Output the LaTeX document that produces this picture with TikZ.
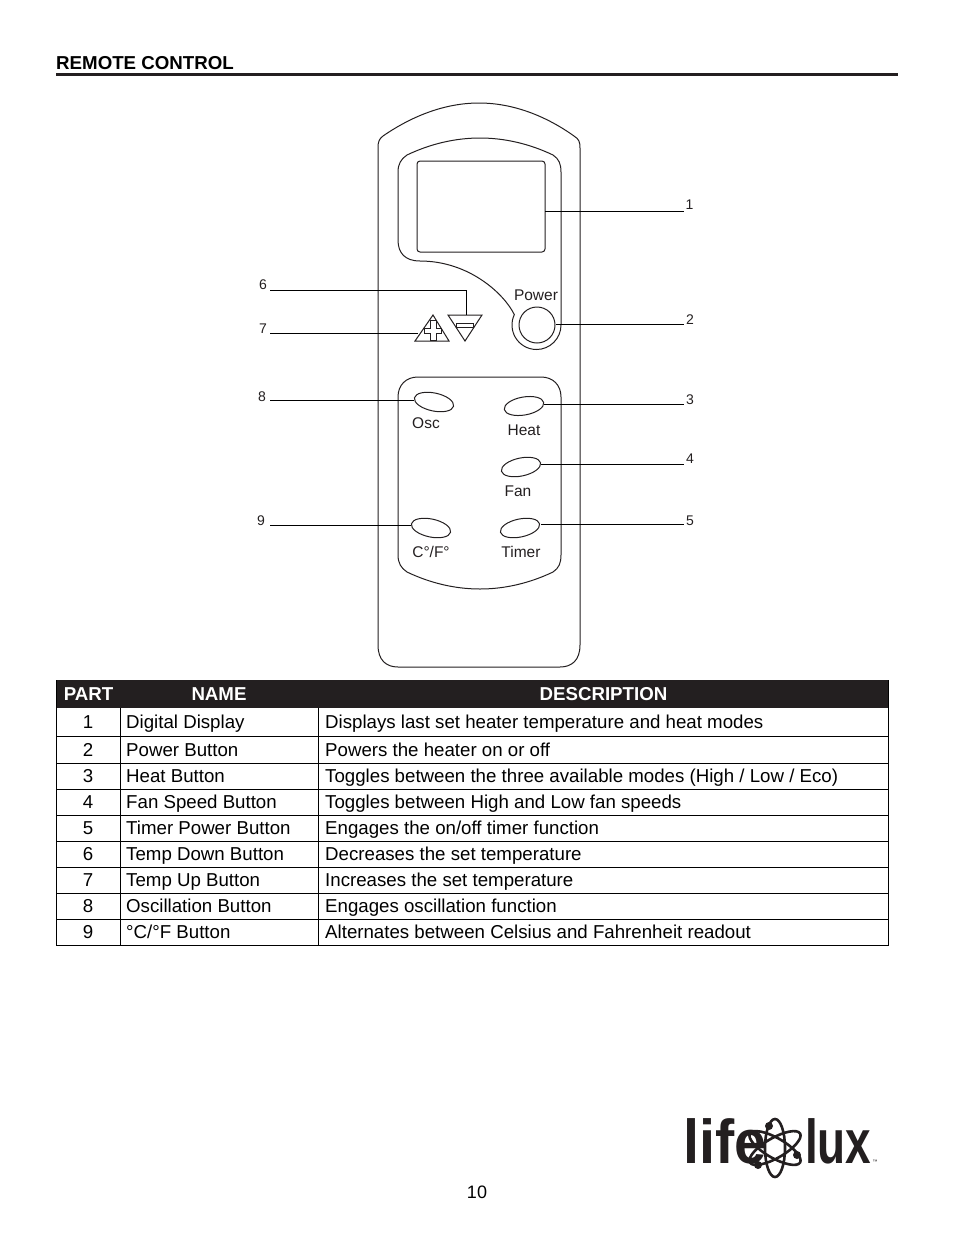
\documentclass[tikz,border=0pt]{standalone}
\usepackage{fontspec}
\setmainfont{Liberation Sans}
\usepackage{tikz}
\usetikzlibrary{shapes.geometric}
\definecolor{inkblack}{HTML}{231F20}
\newcommand{\fsize}[1]{\fontsize{#1}{#1}\selectfont}
\tikzset{
  outline/.style={draw=inkblack, line width=1pt},
  leader/.style={draw=black, line width=0.9pt},
  callout/.style={font=\fsize{14}, inner sep=0pt, text=inkblack},
  keylabel/.style={font=\fsize{15.5}, inner sep=0pt, text=inkblack},
  keybutton/.style={ellipse, outline, minimum width=40pt, minimum height=18pt, inner sep=0pt},
  cell/.style={anchor=base west, font=\fsize{18.68}, inner sep=0pt, text=black},
  headcell/.style={anchor=base, font=\fsize{18.68}\bfseries, inner sep=0pt, text=white},
  logotext/.style={font=\fsize{62}\bfseries, inner sep=0pt, text=inkblack, anchor=base west},
  orbit/.style={draw=inkblack, line width=2.6pt},
  electron/.style={circle, fill=inkblack, inner sep=0pt, minimum size=8pt}
}
\begin{document}
\begin{tikzpicture}[x=1pt, y=-1pt]
        \useasboundingbox (0,0) rectangle (954,1235);

        \node[anchor=base west, inner sep=0pt, font=\fsize{18.7}\bfseries] (title) at (56,69) {REMOTE CONTROL};
        \draw[inkblack, line width=3pt] (56,74) -- (898,74);

        % remote body
        \draw[outline] (378,148) .. controls (378,142) and (379,139) .. (383,136)
          .. controls (412,116) and (445,103) .. (479,103)
          .. controls (513,103) and (546,116) .. (574,136)
          .. controls (579,139) and (580,142) .. (580,148)
          -- (580,645) .. controls (580,660) and (572,667) .. (560,667)
          -- (398,667) .. controls (386,667) and (378,660) .. (378,645) -- cycle;

        % display bezel
        \draw[outline] (398,172) .. controls (398,164) and (401,159) .. (407,155)
          .. controls (430,144) and (455,138) .. (480,138)
          .. controls (505,138) and (530,144) .. (553,155)
          .. controls (559,159) and (561,164) .. (561,172)
          -- (561,325) arc (0:205:24.5)
          .. controls (505,295) and (470,261) .. (420,261)
          .. controls (405,261) and (398,253) .. (398,240) -- cycle;
        \draw[outline, rounded corners=3pt] (417,161) rectangle (545,252);
        \node[circle, outline, minimum size=36pt, inner sep=0pt] (power) at (537,325) {};
        \node[keylabel] (powerlabel) at (536,295) {Power};

        % temperature keys
        \draw[outline] (448,315) -- (482,315) -- (465,341) -- cycle;
        \draw[outline] (456,323) rectangle (473,327);
        \draw[outline] (433,315) -- (449,341) -- (415,341) -- cycle;
        \draw[outline] (430,320) -- (436,320) -- (436,328) -- (441,328) -- (441,333) -- (436,333)
          -- (436,340) -- (430,340) -- (430,333) -- (424,333) -- (424,328) -- (430,328) -- cycle;

        % key panel
        \draw[outline] (398,397) .. controls (398,385) and (406,377) .. (418,377)
          -- (541,377) .. controls (553,377) and (561,385) .. (561,397)
          -- (561,555) .. controls (561,563) and (559,568) .. (553,572)
          .. controls (530,583) and (505,589) .. (480,589)
          .. controls (455,589) and (430,583) .. (407,572)
          .. controls (401,568) and (398,563) .. (398,555) -- cycle;

        \node[keybutton, rotate=-12] (osc) at (434,402) {};
        \node[keybutton, rotate=10] (heat) at (524,406) {};
        \node[keybutton, rotate=12] (fan) at (521,467) {};
        \node[keybutton, rotate=-12] (degrees) at (431,528) {};
        \node[keybutton, rotate=12] (timer) at (520,528) {};
        \node[keylabel] (osclabel) at (426,423) {Osc};
        \node[keylabel] (heatlabel) at (524,430) {Heat};
        \node[keylabel] (fanlabel) at (518,491) {Fan};
        \node[keylabel] (degreeslabel) at (431,552) {C°/F°};
        \node[keylabel] (timerlabel) at (521,552) {Timer};

        % callouts
        \node[callout] (c1) at (689.5,205) {1};
        \node[callout] (c2) at (690,319.5) {2};
        \node[callout] (c3) at (690,399.5) {3};
        \node[callout] (c4) at (690,458.5) {4};
        \node[callout] (c5) at (690,520.5) {5};
        \node[callout] (c6) at (263,284.5) {6};
        \node[callout] (c7) at (263,328.5) {7};
        \node[callout] (c8) at (262,396.5) {8};
        \node[callout] (c9) at (261,520.5) {9};

        \foreach \name/\x/\y in {e1/684/211, s1/545/211, e2/684/324, s2/556/324, e3/684/404, s3/544/404,
            e4/684/464, s4/541/464, e5/684/524, s5/541/524, e6/270/290, s6/466/315, e7/270/333, s7/418/333,
            e8/270/400, s8/414/400, e9/270/525, s9/411/525} {
          \coordinate (\name) at (\x,\y);
        }
        \foreach \n in {1,2,3,4,5,7,8,9} {
          \draw[leader] (s\n) -- (e\n);
        }
        \draw[leader] (e6) -| (s6);

        % table
        \fill[inkblack] (56.5,680) rectangle (888.5,707.5);
        \node[headcell] (headpart) at (88.5,700) {PART};
        \node[headcell] (headname) at (219,700) {NAME};
        \node[headcell] (headdesc) at (603.5,700) {DESCRIPTION};

        \draw[black, line width=1pt] (56.5,680) -- (56.5,945.5) -- (888.5,945.5) -- (888.5,680);
        \draw[black, line width=1pt] (120.5,707.5) -- (120.5,945.5);
        \draw[black, line width=1pt] (318.5,707.5) -- (318.5,945.5);
        \foreach \y in {736.5,763.5,789.5,815.5,841.5,867.5,893.5,919.5} {
          \draw[black, line width=1pt] (56.5,\y) -- (888.5,\y);
        }

        \foreach \n/\y/\part/\desc in {
            1/728.5/{Digital Display}/{Displays last set heater temperature and heat modes},
            2/756.5/{Power Button}/{Powers the heater on or off},
            3/782.5/{Heat Button}/{Toggles between the three available modes (High / Low / Eco)},
            4/808.5/{Fan Speed Button}/{Toggles between High and Low fan speeds},
            5/834.5/{Timer Power Button}/{Engages the on/off timer function},
            6/860.5/{Temp Down Button}/{Decreases the set temperature},
            7/886.5/{Temp Up Button}/{Increases the set temperature},
            8/912.5/{Oscillation Button}/{Engages oscillation function},
            9/938.5/{°C/°F Button}/{Alternates between Celsius and Fahrenheit readout}} {
          \node[cell, anchor=base] (num\n) at (88,\y) {\n};
          \node[cell] (part\n) at (126,\y) {\part};
          \node[cell] (desc\n) at (325,\y) {\desc};
        }

        % logo
        \node[logotext, xscale=0.93, transform shape] (life) at (683,1163) {life};
        \node[logotext, xscale=0.74, transform shape] (lux) at (805,1163) {lux};
        \node[inner sep=0pt, font=\fsize{5}, text=inkblack] (tm) at (875,1162) {™};
        \draw[orbit] (775,1148) ellipse [x radius=10, y radius=29];
        \draw[orbit, rotate around={60:(775,1148)}] (775,1148) ellipse [x radius=10, y radius=29];
        \draw[orbit, rotate around={-60:(775,1148)}] (775,1148) ellipse [x radius=10, y radius=29];
        \node[electron] (atom1) at (769,1126) {};
        \node[electron] (atom2) at (797,1155) {};
        \node[electron] (atom3) at (758,1165) {};

        \node[inner sep=0pt, font=\fsize{18}] (pagenum) at (477,1192) {10};
      \end{tikzpicture}
\end{document}
